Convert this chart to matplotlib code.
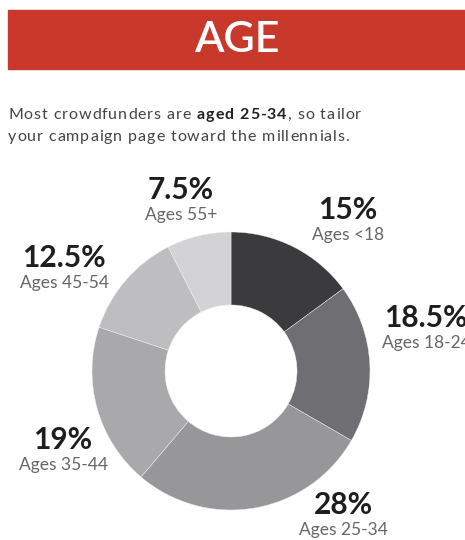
import matplotlib
matplotlib.use("Agg")
import matplotlib.pyplot as plt
from matplotlib.patches import Rectangle

categories = ["Ages <18", "Ages 18-24", "Ages 25-34", "Ages 35-44", "Ages 45-54", "Ages 55+"]
values = [15, 18.5, 28, 19, 12.5, 7.5]
value_labels = ["15%", "18.5%", "28%", "19%", "12.5%", "7.5%"]
colors = ["#3b3b3d", "#6f6f73", "#97979a", "#a9a9ab", "#bebec0", "#d3d3d5"]
title = "AGE"

W, H = 465, 540
fig = plt.figure(figsize=(W / 100, H / 100), dpi=100)
fig.patch.set_facecolor("white")

bg = fig.add_axes([0, 0, 1, 1])
bg.set_xlim(0, W)
bg.set_ylim(H, 0)
bg.axis("off")

bg.add_patch(Rectangle((8, 10), W, 59, color="#c9392b", zorder=1))
bg.text(237, 40, title, color="white", fontsize=31, family="Lato",
        fontweight="semibold", ha="center", va="center")

fig.canvas.draw()
r = fig.canvas.get_renderer()


def tracked(x, y, s, size, weight="normal", color="#444444", track=0.9):
    """draw text with a little extra letter spacing; returns end x"""
    for ch in s:
        t = bg.text(x, y, ch, fontsize=size, family="Lato", fontweight=weight,
                    color=color, va="center", ha="left")
        if ch == " ":
            adv = size * 0.265 * 100 / 72
        else:
            bb = t.get_window_extent(renderer=r)
            adv = bb.width
        x += adv + track
    return x


fs = 11.5
x = tracked(8, 115, "Most crowdfunders are ", fs)
x = tracked(x, 115, "aged 25-34", fs, weight="bold", color="#222222")
x = tracked(x, 115, ", so tailor", fs)
tracked(8, 137, "your campaign page toward the millennials.", fs)

cx, cy, rad = 231, 371, 139
ax = fig.add_axes([(cx - rad) / W, (H - cy - rad) / H, 2 * rad / W, 2 * rad / H])
ax.pie(values, colors=colors, startangle=90, counterclock=False, radius=1,
       wedgeprops=dict(width=0.525, edgecolor="#f2f2f2", linewidth=0.3))
ax.set_xlim(-1, 1)
ax.set_ylim(-1, 1)
ax.axis("off")

label_pos = [(348, 210), (426, 318), (343, 505), (63, 440), (64, 258), (181, 190)]
for (x, y), v, c in zip(label_pos, value_labels, categories):
    bg.text(x, y, v, fontsize=21.5, family="Lato", fontweight="bold", color="#1e1e1e",
            ha="center", va="center", zorder=5)
    bg.text(x, y + 25, c, fontsize=12.5, family="Lato", color="#666666",
            ha="center", va="center", zorder=5)

fig.savefig("out.png", dpi=100, facecolor="white")
